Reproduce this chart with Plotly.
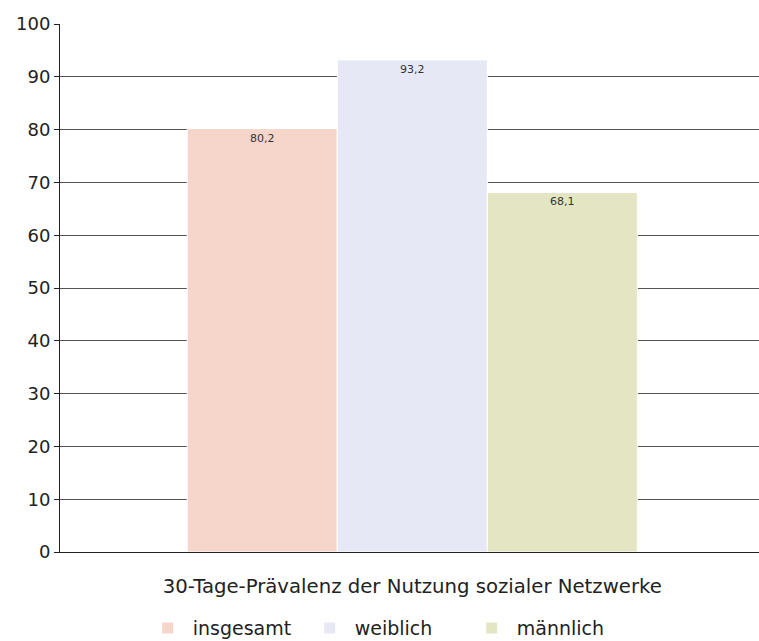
import plotly.graph_objects as go

CATEGORY = ["30-Tage-Prävalenz der Nutzung sozialer Netzwerke"]
GROUPS = ["insgesamt", "weiblich", "männlich"]
VALUES = [80.2, 93.2, 68.1]
COLORS = ["#F6D6CA", "#E6E9F5", "#E4E6C3"]
Y_TICKS = list(range(0, 101, 10))

FONT = "DejaVu Sans, sans-serif"

fig = go.Figure()
for name, val, col in zip(GROUPS, VALUES, COLORS):
    fig.add_trace(go.Bar(
        x=CATEGORY, y=[val], name=name,
        marker=dict(color=col, line=dict(color="white", width=1)),
        texttemplate="%{y:.1f}", textposition="inside",
        insidetextanchor="end",
        textfont=dict(size=11, color="#333333", family=FONT),
        hoverinfo="skip",
    ))

fig.update_layout(
    width=759, height=641,
    margin=dict(l=60, r=0, t=24, b=89),
    paper_bgcolor="white", plot_bgcolor="white",
    separators=",.",
    barmode="group", bargap=0.356, bargroupgap=0.0,
    font=dict(family=FONT, color="#222222"),
    showlegend=True,
    legend=dict(
        orientation="h", xref="paper", x=0.466, xanchor="center",
        yref="container", y=0.02, yanchor="middle",
        font=dict(size=19, family=FONT, color="#222222"),
        entrywidth=107, itemwidth=40,
    ),
    uniformtext=dict(minsize=11, mode="show"),
)
fig.update_xaxes(
    range=[-0.504, 0.496],
    showgrid=False, showline=True, linecolor="#222222", linewidth=1,
    ticks="", tickfont=dict(size=19.7, family=FONT, color="#222222"),
    ticklabelstandoff=16,
)
fig.update_yaxes(
    range=[0, 100], tickvals=Y_TICKS,
    showgrid=True, gridcolor="#555555", gridwidth=1,
    showline=True, linecolor="#222222", linewidth=1,
    ticks="outside", ticklen=5, tickcolor="#222222",
    tickfont=dict(size=18, family=FONT, color="#222222"),
    zeroline=False,
)

# drop the default body margin so the figure fills the window exactly
fig.write_html("out.html", config={"displayModeBar": False},
               post_script="document.body.style.margin='0';")
